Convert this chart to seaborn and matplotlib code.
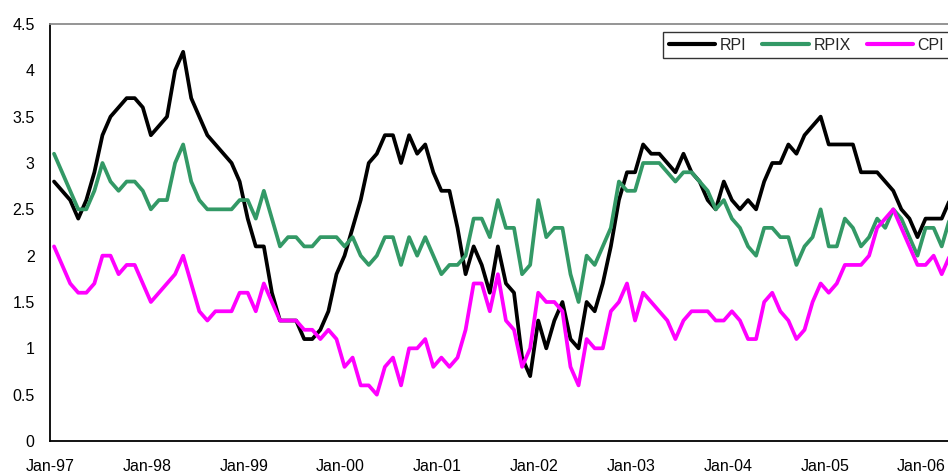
import numpy as np
import pandas as pd
import matplotlib
matplotlib.use("Agg")
import matplotlib.pyplot as plt
import seaborn as sns

# Annual inflation rates (%), monthly from Jan-97 to Apr-06
rpi = [
    2.8, 2.7, 2.6, 2.4, 2.6, 2.9, 3.3, 3.5, 3.6, 3.7, 3.7, 3.6,   # 1997
    3.3, 3.4, 3.5, 4.0, 4.2, 3.7, 3.5, 3.3, 3.2, 3.1, 3.0, 2.8,   # 1998
    2.4, 2.1, 2.1, 1.6, 1.3, 1.3, 1.3, 1.1, 1.1, 1.2, 1.4, 1.8,   # 1999
    2.0, 2.3, 2.6, 3.0, 3.1, 3.3, 3.3, 3.0, 3.3, 3.1, 3.2, 2.9,   # 2000
    2.7, 2.7, 2.3, 1.8, 2.1, 1.9, 1.6, 2.1, 1.7, 1.6, 0.9, 0.7,   # 2001
    1.3, 1.0, 1.3, 1.5, 1.1, 1.0, 1.5, 1.4, 1.7, 2.1, 2.6, 2.9,   # 2002
    2.9, 3.2, 3.1, 3.1, 3.0, 2.9, 3.1, 2.9, 2.8, 2.6, 2.5, 2.8,   # 2003
    2.6, 2.5, 2.6, 2.5, 2.8, 3.0, 3.0, 3.2, 3.1, 3.3, 3.4, 3.5,   # 2004
    3.2, 3.2, 3.2, 3.2, 2.9, 2.9, 2.9, 2.8, 2.7, 2.5, 2.4, 2.2,   # 2005
    2.4, 2.4, 2.4, 2.6,                                           # 2006
]
rpix = [
    3.1, 2.9, 2.7, 2.5, 2.5, 2.7, 3.0, 2.8, 2.7, 2.8, 2.8, 2.7,
    2.5, 2.6, 2.6, 3.0, 3.2, 2.8, 2.6, 2.5, 2.5, 2.5, 2.5, 2.6,
    2.6, 2.4, 2.7, 2.4, 2.1, 2.2, 2.2, 2.1, 2.1, 2.2, 2.2, 2.2,
    2.1, 2.2, 2.0, 1.9, 2.0, 2.2, 2.2, 1.9, 2.2, 2.0, 2.2, 2.0,
    1.8, 1.9, 1.9, 2.0, 2.4, 2.4, 2.2, 2.6, 2.3, 2.3, 1.8, 1.9,
    2.6, 2.2, 2.3, 2.3, 1.8, 1.5, 2.0, 1.9, 2.1, 2.3, 2.8, 2.7,
    2.7, 3.0, 3.0, 3.0, 2.9, 2.8, 2.9, 2.9, 2.8, 2.7, 2.5, 2.6,
    2.4, 2.3, 2.1, 2.0, 2.3, 2.3, 2.2, 2.2, 1.9, 2.1, 2.2, 2.5,
    2.1, 2.1, 2.4, 2.3, 2.1, 2.2, 2.4, 2.3, 2.5, 2.4, 2.2, 2.0,
    2.3, 2.3, 2.1, 2.4,
]
cpi = [
    2.1, 1.9, 1.7, 1.6, 1.6, 1.7, 2.0, 2.0, 1.8, 1.9, 1.9, 1.7,
    1.5, 1.6, 1.7, 1.8, 2.0, 1.7, 1.4, 1.3, 1.4, 1.4, 1.4, 1.6,
    1.6, 1.4, 1.7, 1.5, 1.3, 1.3, 1.3, 1.2, 1.2, 1.1, 1.2, 1.1,
    0.8, 0.9, 0.6, 0.6, 0.5, 0.8, 0.9, 0.6, 1.0, 1.0, 1.1, 0.8,
    0.9, 0.8, 0.9, 1.2, 1.7, 1.7, 1.4, 1.8, 1.3, 1.2, 0.8, 1.0,
    1.6, 1.5, 1.5, 1.4, 0.8, 0.6, 1.1, 1.0, 1.0, 1.4, 1.5, 1.7,
    1.3, 1.6, 1.5, 1.4, 1.3, 1.1, 1.3, 1.4, 1.4, 1.4, 1.3, 1.3,
    1.4, 1.3, 1.1, 1.1, 1.5, 1.6, 1.4, 1.3, 1.1, 1.2, 1.5, 1.7,
    1.6, 1.7, 1.9, 1.9, 1.9, 2.0, 2.3, 2.4, 2.5, 2.3, 2.1, 1.9,
    1.9, 2.0, 1.8, 2.0,
]
series_names = ["RPI", "RPIX", "CPI"]
year_labels = ["Jan-97", "Jan-98", "Jan-99", "Jan-00", "Jan-01",
               "Jan-02", "Jan-03", "Jan-04", "Jan-05", "Jan-06"]
y_ticks = [0, 0.5, 1, 1.5, 2, 2.5, 3, 3.5, 4, 4.5]
y_tick_labels = ["0", "0.5", "1", "1.5", "2", "2.5", "3", "3.5", "4", "4.5"]

colors = {"RPI": "#000000", "RPIX": "#339966", "CPI": "#FF00FF"}

n = len(rpi)
month = np.arange(n)
df = pd.DataFrame({
    "month": np.concatenate([month, month, month]),
    "value": rpi + rpix + cpi,
    "series": ["RPI"] * n + ["RPIX"] * n + ["CPI"] * n,
})

sns.set_style("white")
plt.rcParams["font.family"] = ["Liberation Sans", "DejaVu Sans"]

fig = plt.figure(figsize=(9.48, 4.75), dpi=100)
ax = fig.add_axes([50 / 948, 34 / 475, 1 - 50 / 948, 417 / 475])

sns.lineplot(data=df, x="month", y="value", hue="series",
             hue_order=series_names, palette=colors,
             linewidth=2.7, ax=ax, legend=False)

# months sit between the yearly tick marks
ax.set_xlim(-0.5, 110.78)
ax.set_ylim(0, 4.5)
ax.set_xticks([-0.5 + 12 * k for k in range(len(year_labels))])
ax.set_xticklabels(year_labels)
ax.set_yticks(y_ticks)
ax.set_yticklabels(y_tick_labels)
ax.set_xlabel("")
ax.set_ylabel("")

ax.tick_params(axis="x", direction="out", length=6, width=1.2,
               color="black", pad=7, labelsize=11.5, labelcolor="black")
ax.tick_params(axis="y", direction="out", length=4, width=1.2,
               color="black", pad=7, labelsize=11.5, labelcolor="black")

for side in ["left", "bottom"]:
    ax.spines[side].set_color("black")
    ax.spines[side].set_linewidth(1.3)
ax.spines["top"].set_color("#8c8c8c")
ax.spines["top"].set_linewidth(1.3)
ax.spines["right"].set_visible(False)
ax.grid(False)

handles = ax.get_lines()[:3]
leg = fig.legend(handles, series_names, loc="upper left",
                 bbox_to_anchor=(663 / 948, 1 - 32 / 475), ncol=3,
                 frameon=True, fancybox=False, fontsize=11.5,
                 handlelength=2.9, handletextpad=0.3, columnspacing=1.0,
                 borderpad=0.35, borderaxespad=0)
leg.get_frame().set_edgecolor("black")
leg.get_frame().set_linewidth(1.0)
for line in leg.get_lines():
    line.set_linewidth(3.0)

fig.savefig("out.png", dpi=100)
